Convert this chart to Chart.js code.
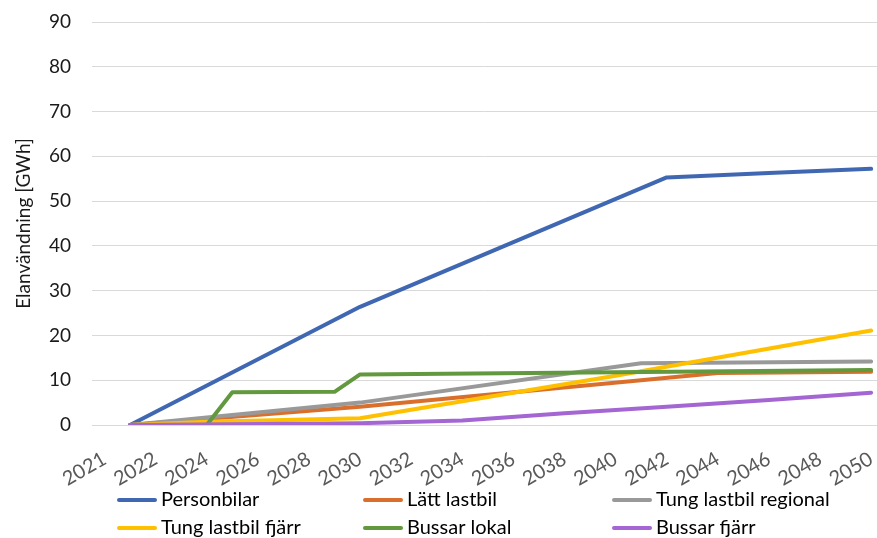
<!DOCTYPE html>
<html>
<head>
<meta charset="utf-8">
<script src="https://cdn.jsdelivr.net/npm/chart.js@4.4.1/dist/chart.umd.min.js"></script>
<style>
  html, body { margin: 0; padding: 0; background: #fff; }
</style>
</head>
<body>
<canvas id="chart" width="877" height="538"></canvas>
<script>
// years 2021..2050; null = no reading, the line runs straight between readings
const years = [2021, 2022, 2023, 2024, 2025, 2026, 2027, 2028, 2029, 2030,
               2031, 2032, 2033, 2034, 2035, 2036, 2037, 2038, 2039, 2040,
               2041, 2042, 2043, 2044, 2045, 2046, 2047, 2048, 2049, 2050];

const personbilar = [0, null, null, null, null, null, null, null, null, 26.4,
                     null, null, null, null, null, null, null, null, null, null,
                     null, 55.3, null, null, null, 56.3, null, null, null, 57.2];
const lattLastbil = [0, null, null, null, null, null, null, null, null, 4.1,
                     null, null, null, null, null, null, null, null, null, null,
                     null, null, null, 11.6, null, null, null, null, null, 11.9];
const tungRegional = [0, null, null, null, null, null, null, null, null, 5.0,
                      null, null, null, null, null, null, null, null, null, null,
                      13.8, null, null, null, null, null, null, null, null, 14.2];
const tungFjarr = [0, null, null, 0.7, null, null, null, null, null, 1.5,
                   null, null, null, null, null, null, null, null, null, 11.0,
                   null, null, null, null, null, null, null, null, null, 21.1];
const bussarLokal = [0, null, null, 0, 7.3, null, null, null, 7.4, 11.3,
                     null, null, null, null, null, null, null, null, null, 11.8,
                     null, null, null, null, null, null, null, null, null, 12.3];
const bussarFjarr = [0, null, null, null, null, null, null, null, null, 0.4,
                     null, null, null, 1.0, null, null, null, 2.6, null, null,
                     null, 4.1, null, null, null, 5.6, null, null, null, 7.2];

// x tick labels and where they sit on the year axis
const xTickValues = [2020, 2022, 2024, 2026, 2028, 2030, 2032, 2034, 2036, 2038, 2040, 2042, 2044, 2046, 2048, 2050];
const xTickLabels = ['2021', '2022', '2024', '2026', '2028', '2030', '2032', '2034', '2036', '2038', '2040', '2042', '2044', '2046', '2048', '2050'];

const FONT = 'Lato, "Noto Sans", sans-serif';

function points(vals) {
  return years.map((y, i) => ({ x: y, y: vals[i] })).filter(p => p.y !== null);
}

function series(label, vals, color, order) {
  return {
    label: label,
    data: points(vals),
    borderColor: color,
    backgroundColor: color,
    borderWidth: 4,
    borderCapStyle: 'round',
    borderJoinStyle: 'round',
    pointRadius: 0,
    tension: 0,
    order: order
  };
}

// legend laid out as a 3-column grid under the axis
const gridLegend = {
  id: 'gridLegend',
  afterDraw(chart) {
    const ctx = chart.ctx;
    const cols = [117, 363, 612];
    const rows = [500, 528];
    ctx.save();
    ctx.font = '20px ' + FONT;
    ctx.textBaseline = 'middle';
    ctx.textAlign = 'left';
    chart.data.datasets.forEach((ds, i) => {
      const x = cols[i % 3];
      const y = rows[Math.floor(i / 3)];
      ctx.strokeStyle = ds.borderColor;
      ctx.lineWidth = 4;
      ctx.lineCap = 'round';
      ctx.beginPath();
      ctx.moveTo(x + 2, y);
      ctx.lineTo(x + 38, y);
      ctx.stroke();
      ctx.fillStyle = '#000';
      ctx.fillText(ds.label, x + 44, y);
    });
    ctx.restore();
  }
};

new Chart(document.getElementById('chart'), {
  type: 'line',
  data: {
    datasets: [
      series('Personbilar', personbilar, '#4068B2', 6),
      series('Lätt lastbil', lattLastbil, '#DA6F2C', 5),
      series('Tung lastbil regional', tungRegional, '#999999', 4),
      series('Tung lastbil fjärr', tungFjarr, '#FFC000', 3),
      series('Bussar lokal', bussarLokal, '#62993F', 2),
      series('Bussar fjärr', bussarFjarr, '#A466D2', 1)
    ]
  },
  options: {
    responsive: false,
    animation: false,
    devicePixelRatio: 1,
    layout: { padding: { top: 22, right: 0, bottom: 40, left: 0 } },
    plugins: {
      legend: { display: false },
      tooltip: { enabled: false }
    },
    scales: {
      x: {
        type: 'linear',
        min: 2019.51,
        max: 2050.23,
        afterBuildTicks: scale => {
          scale.ticks = xTickValues.map(v => ({ value: v }));
        },
        afterFit: scale => {
          scale.height = 73;
          scale.paddingLeft = 0;
          scale.paddingRight = 0;
        },
        grid: { display: false, drawTicks: false },
        border: { display: false },
        ticks: {
          autoSkip: false,
          minRotation: 30,
          maxRotation: 30,
          padding: 22,
          color: '#595959',
          font: { family: FONT, size: 20 },
          callback: v => xTickLabels[xTickValues.indexOf(v)]
        }
      },
      y: {
        min: 0,
        max: 90,
        afterFit: scale => {
          scale.width = 92;
          scale.paddingTop = 0;
          scale.paddingBottom = 0;
        },
        grid: { color: '#D9D9D9', lineWidth: 1, drawTicks: false },
        border: { display: false },
        ticks: {
          stepSize: 10,
          padding: 21,
          color: '#1a1a1a',
          font: { family: FONT, size: 19 }
        },
        title: {
          display: true,
          text: 'Elanvändning [GWh]',
          color: '#1a1a1a',
          font: { family: FONT, size: 19 },
          padding: { top: 12, bottom: 0 }
        }
      }
    }
  },
  plugins: [gridLegend]
});
</script>
</body>
</html>
